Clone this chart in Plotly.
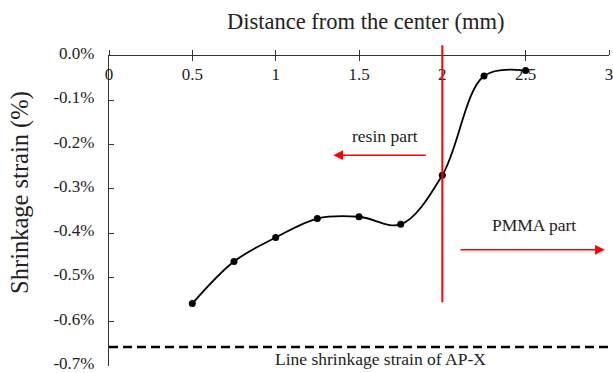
import plotly.graph_objects as go

# ---- data ----
distance_mm = [0.5, 0.75, 1.0, 1.25, 1.5, 1.75, 2.0, 2.25, 2.5]
shrinkage_pct = [-0.559, -0.464, -0.410, -0.367, -0.363, -0.380, -0.269, -0.045, -0.033]

x_tick_vals = [0, 0.5, 1, 1.5, 2, 2.5, 3]
x_tick_text = ["0", "0.5", "1", "1.5", "2", "2.5", "3"]
y_tick_vals = [0, -0.1, -0.2, -0.3, -0.4, -0.5, -0.6, -0.7]
y_tick_text = ["0.0%", "-0.1%", "-0.2%", "-0.3%", "-0.4%", "-0.5%", "-0.6%", "-0.7%"]

boundary_x = 2.0
boundary_y = [0.024, -0.556]
apx_line = -0.657
resin_arrow = {"tail": (1.91, -0.224), "head": (1.346, -0.224)}
pmma_arrow = {"tail": (2.10, -0.4376), "head": (2.975, -0.4376)}

X_RANGE = [0, 3]
Y_RANGE = [-0.7, 0]
FONT = "Liberation Serif, Times New Roman, serif"

fig = go.Figure()
fig.add_trace(go.Scatter(
    x=distance_mm, y=shrinkage_pct, mode="lines+markers",
    line=dict(color="black", width=1.8, shape="spline", smoothing=1.0),
    marker=dict(color="black", size=7),
    showlegend=False, xaxis="x", yaxis="y",
))
# dummy trace for secondary x axis (downward tick half)
fig.add_trace(go.Scatter(x=[None], y=[None], xaxis="x2", yaxis="y", showlegend=False))

def ydom(v):
    return (v - Y_RANGE[0]) / (Y_RANGE[1] - Y_RANGE[0])

shapes = [
    # red boundary line
    dict(type="line", xref="x", yref="y domain", x0=boundary_x, x1=boundary_x,
         y0=ydom(boundary_y[0]), y1=ydom(boundary_y[1]),
         line=dict(color="#ff0000", width=2)),
    # AP-X dashed line
    dict(type="line", xref="x domain", yref="y", x0=0, x1=1.1, y0=apx_line, y1=apx_line,
         line=dict(color="black", width=2.5, dash="9px,5px")),
]

annotations = [
    dict(text="Distance from the center (mm)", xref="paper", yref="paper",
         x=0.512, y=1.11, xanchor="center", yanchor="middle", showarrow=False,
         font=dict(family=FONT, size=22.5, color="#222")),
    dict(text="Shrinkage strain (%)", xref="paper", yref="paper",
         x=-0.177, y=0.56, xanchor="center", yanchor="middle", showarrow=False,
         textangle=-90, font=dict(family=FONT, size=24.5, color="#222")),
    dict(text="resin part", xref="x", yref="y", x=1.656, y=-0.181, showarrow=False,
         font=dict(family=FONT, size=17.5, color="#222")),
    dict(text="PMMA part", xref="x", yref="y", x=2.547, y=-0.382, showarrow=False,
         font=dict(family=FONT, size=17.5, color="#222")),
    dict(text="Line shrinkage strain of AP-X", xref="x", yref="y", x=1.629, y=-0.685,
         showarrow=False, font=dict(family=FONT, size=17.5, color="#222")),
]
for arr in (resin_arrow, pmma_arrow):
    annotations.append(dict(
        text="", xref="x", yref="y", axref="x", ayref="y",
        x=arr["head"][0], y=arr["head"][1], ax=arr["tail"][0], ay=arr["tail"][1],
        showarrow=True, arrowhead=2, arrowsize=1.3, arrowwidth=1.5, arrowcolor="#ff0000",
        standoff=0, startstandoff=0,
    ))

fig.update_layout(
    width=613, height=373,
    margin=dict(l=109, r=4, t=56, b=7, autoexpand=False),
    paper_bgcolor="white", plot_bgcolor="white",
    font=dict(family=FONT, size=17, color="#222"),
    xaxis=dict(range=X_RANGE, side="top", anchor="y", automargin=False,
               tickvals=x_tick_vals, ticktext=x_tick_text,
               ticks="outside", ticklen=5, tickwidth=1.2, tickcolor="#333",
               ticklabelposition="inside", ticklabelstandoff=12,
               ticklabeloverflow="allow",
               showline=True, linecolor="#333", linewidth=1.2,
               showgrid=False, zeroline=False,
               tickfont=dict(family=FONT, size=17, color="#222")),
    xaxis2=dict(range=X_RANGE, side="top", anchor="y", overlaying="x", automargin=False,
                tickvals=x_tick_vals, ticks="inside", ticklen=5, tickwidth=1.2,
                tickcolor="#333", showticklabels=False, showline=False,
                showgrid=False, zeroline=False),
    yaxis=dict(range=Y_RANGE, tickvals=y_tick_vals, ticktext=y_tick_text, automargin=False,
               ticks="inside", ticklen=5, tickwidth=1.2, tickcolor="#333",
               showline=True, linecolor="#333", linewidth=1.2,
               showgrid=False, zeroline=False, ticklabelstandoff=10,
               ticklabelshift=-3,
               ticklabeloverflow="allow",
               tickfont=dict(family=FONT, size=17, color="#222")),
    shapes=shapes, annotations=annotations,
)

fig.write_html("out.html")
